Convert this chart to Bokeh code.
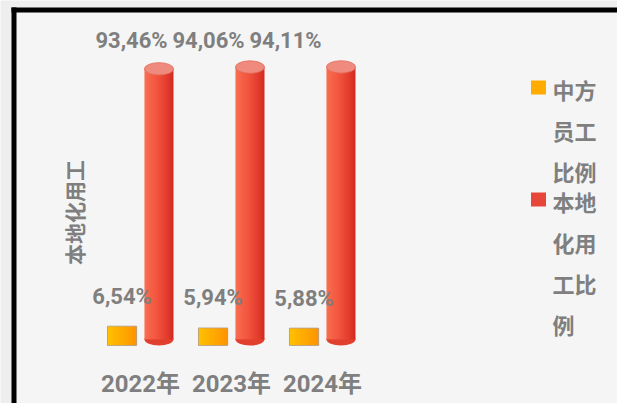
import numpy as np
from bokeh.plotting import figure
from bokeh.models import Range1d, BoxAnnotation
from bokeh.core.properties import value
from bokeh.embed import file_html
from bokeh.resources import INLINE

# ---- data ----
years = ["2022年", "2023年", "2024年"]
chinese_staff = [6.54, 5.94, 5.88]      # 中方员工比例 (%)
local_staff = [93.46, 94.06, 94.11]     # 本地化用工比例 (%)
series_names = ["中方员工比例", "本地化用工比例"]
y_title = "本地化用工"

# ---- layout helpers (canvas pixels -> data) ----
W, H = 617, 403
X0, XS = 140.0, 91.0
Y0, YS = 345.0, 2.96


def dx(px):
    return (px - X0) / XS


def dy(py):
    return (Y0 - py) / YS


NUMFONT = value("Roboto, Noto Sans CJK SC")
CJKFONT = value("Noto Sans CJK SC")
GRAY = "#7f7f7f"

p = figure(width=W, height=H, output_backend="svg", toolbar_location=None,
           x_range=Range1d(dx(0), dx(W)), y_range=Range1d(dy(H), dy(0)),
           x_axis_location=None, y_axis_location=None,
           min_border=0, min_border_left=0, min_border_right=0,
           min_border_top=0, min_border_bottom=0)
p.grid.visible = False
p.outline_line_color = None
p.background_fill_color = "#eeeeee"
p.border_fill_color = "#eeeeee"

# inner lighter panel
p.add_layout(BoxAnnotation(left=dx(16), right=dx(W), top=dy(12), bottom=dy(H),
                           fill_color="#f5f5f5", fill_alpha=1, line_color=None, level="underlay"))

# black frame lines (top and left)
p.add_layout(BoxAnnotation(left=dx(11), right=dx(W), top=dy(7), bottom=dy(12),
                           fill_color="black", fill_alpha=1, line_color=None))
p.add_layout(BoxAnnotation(left=dx(11), right=dx(16), top=dy(7), bottom=dy(H),
                           fill_color="black", fill_alpha=1, line_color=None))


def lerp(stops, t):
    for (t0, c0), (t1, c1) in zip(stops[:-1], stops[1:]):
        if t0 <= t <= t1:
            f = (t - t0) / (t1 - t0) if t1 > t0 else 0
            c = [round(a + (b - a) * f) for a, b in zip(c0, c1)]
            return "#%02x%02x%02x" % tuple(c)
    c = stops[-1][1]
    return "#%02x%02x%02x" % tuple(c)


xc = np.arange(len(years))
off = 0.203
bw = 0.319
N = 16
orange_stops = [(0, (255, 194, 0)), (1, (255, 148, 0))]
red_stops = [(0, (250, 112, 82)), (0.45, (242, 84, 62)), (0.85, (224, 56, 42)), (1, (205, 40, 32))]
eh = 4.2  # ellipse height (data units)

# orange bars (gradient strips)
for i in range(N):
    t = (i + 0.5) / N
    p.vbar(x=xc - off - bw / 2 + (i + 0.5) * bw / N, width=bw / N * 1.6,
           bottom=0, top=chinese_staff, fill_color=lerp(orange_stops, t), line_color=None)
p.vbar(x=xc - off, width=bw, bottom=0, top=chinese_staff, fill_color=None,
       line_color="#b0a090", line_width=0.8)

# red cylinders
p.ellipse(x=xc + off, y=[eh / 2] * len(years), width=bw, height=eh,
          fill_color="#e2402f", line_color=None)
for i in range(N):
    t = (i + 0.5) / N
    w = bw / N * (1.6 if 0 < i < N - 1 else 1.0)
    p.vbar(x=xc + off - bw / 2 + (i + 0.5) * bw / N, width=w,
           bottom=eh / 2, top=local_staff, fill_color=lerp(red_stops, t), line_color=None)
p.ellipse(x=xc + off, y=local_staff, width=bw, height=eh,
          fill_color="#ef8a7e", line_color="#e26a58", line_width=0.8)


def fmt(v):
    return f"{v:.2f}%".replace(".", ",")


# value labels
red_label_shift = [-9, -23, -37]
p.text(x=xc + np.array(red_label_shift) / XS, y=[dy(40)] * len(years),
       text=[fmt(v) for v in local_staff], text_align="center", text_baseline="middle",
       text_font=NUMFONT, text_font_style="bold", text_font_size="22px", text_color=GRAY)
p.text(x=xc - off, y=[v + 30 / YS for v in chinese_staff],
       text=[fmt(v) for v in chinese_staff], text_align="center", text_baseline="middle",
       text_font=NUMFONT, text_font_style="bold", text_font_size="22px", text_color=GRAY)

# category labels
p.text(x=xc, y=[dy(383)] * len(years), text=years, text_align="center",
       text_baseline="middle", text_font=NUMFONT, text_font_style="bold",
       text_font_size="24px", text_color=GRAY)

# y-axis title
p.text(x=[dx(73)], y=[dy(212)], text=[y_title], angle=np.pi / 2, text_align="center",
       text_baseline="middle", text_font=CJKFONT, text_font_style="bold",
       text_font_size="21px", text_color=GRAY)

# legend
leg_colors = ["#ffab00", "#e8463a"]
leg_start = [88, 200]
for name, col, y0 in zip(series_names, leg_colors, leg_start):
    p.rect(x=[dx(538)], y=[dy(y0 - 1)], width=15, height=14, width_units="screen",
           height_units="screen", fill_color=col, line_color=None)
    chunks = [name[j:j + 2] for j in range(0, len(name), 2)]
    p.text(x=[dx(552)] * len(chunks), y=[dy(y0 + 41 * j) for j in range(len(chunks))],
           text=chunks, text_align="left", text_baseline="middle", text_font=CJKFONT,
           text_font_style="bold", text_font_size="22px", text_color=GRAY)

open("out.html", "w").write(file_html(p, INLINE))
